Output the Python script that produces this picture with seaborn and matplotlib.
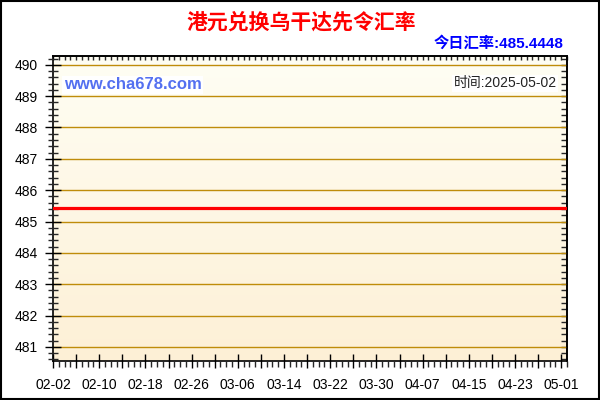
import numpy as np
import pandas as pd
import matplotlib
matplotlib.use("Agg")
import matplotlib.pyplot as plt
import matplotlib.dates as mdates
from matplotlib.colors import LinearSegmentedColormap
from matplotlib.patches import Rectangle
from matplotlib.ticker import MultipleLocator
import seaborn as sns

# data
dates = pd.date_range("2025-02-02", "2025-05-02", freq="D")
rates = [485.4448] * len(dates)
label_dates = pd.date_range("2025-02-02", "2025-05-02", freq="4D")
title = "港元兑换乌干达先令汇率"
today_text = "今日汇率:485.4448"
site_text = "www.cha678.com"
time_text = "时间:2025-05-02"

sns.set_style("white")
plt.rcParams["font.family"] = ["Liberation Sans", "Noto Sans CJK SC", "DejaVu Sans"]

df = pd.DataFrame({"date": dates, "rate": rates})

fig = plt.figure(figsize=(6, 4), dpi=100)
fig.patch.set_facecolor("white")
ax = fig.add_axes([53 / 600, 1 - 361 / 400, 514 / 600, 305 / 400])
ax.set_axisbelow(False)

sns.lineplot(data=df, x="date", y="rate", color="#FF0000", linewidth=2.3, ax=ax, zorder=5)

x0, x1 = mdates.date2num(dates[0]), mdates.date2num(dates[-1])
y0, y1 = 480.55, 490.28
ax.set_xlim(x0, x1)
ax.set_ylim(y0, y1)

# background gradient
cmap = LinearSegmentedColormap.from_list("bg", ["#FDF0D6", "#FFFEF4"])
ax.imshow(np.linspace(0, 1, 256).reshape(-1, 1), cmap=cmap, origin="lower",
          extent=[x0, x1, y0, y1], aspect="auto", zorder=0)
ax.set_xlim(x0, x1)
ax.set_ylim(y0, y1)

# horizontal grid lines
for v in range(481, 491):
    ax.axhline(v, color="#BF8C0A", linewidth=1.0, zorder=1.5)

# y ticks
ax.yaxis.set_major_locator(MultipleLocator(1))
ax.yaxis.set_minor_locator(MultipleLocator(0.2))
ax.tick_params(axis="y", which="major", direction="inout", length=12, width=1,
               labelsize=10, pad=5, colors="black", left=True)
ax.tick_params(axis="y", which="minor", direction="inout", length=7, width=1, left=True)

# x ticks
ax.set_xticks(mdates.date2num(label_dates))
ax.set_xticklabels([d.strftime("%m-%d") if i % 2 == 0 else "" for i, d in enumerate(label_dates)])
ax.xaxis.set_minor_locator(mdates.DayLocator())
ax.tick_params(axis="x", which="major", direction="inout", length=10, width=1,
               labelsize=10, pad=7, colors="black", bottom=True)
ax.tick_params(axis="x", which="minor", direction="out", length=4, width=1, bottom=True)
ax.set_xlabel("")
ax.set_ylabel("")

# top and right ticks pointing inward
top = ax.secondary_xaxis("top")
top.xaxis.set_major_locator(mdates.DayLocator())
top.tick_params(direction="in", length=3, width=1, labeltop=False)
right = ax.secondary_yaxis("right")
right.yaxis.set_major_locator(MultipleLocator(0.2))
right.tick_params(direction="in", length=4, width=1, labelright=False)

for s in list(ax.spines.values()) + [top.spines["top"], right.spines["right"]]:
    s.set_color("black")
    s.set_linewidth(1.2)

# texts
fig.text(0.502, 1 - 22 / 400, title, ha="center", va="center", fontsize=15,
         fontweight="bold", color="#FF0000", family=["Noto Sans CJK SC"])
fig.text(563 / 600, 1 - 43 / 400, today_text, ha="right", va="center", fontsize=11,
         fontweight="bold", color="#0000FF")
ax.text(0.021, 0.905, site_text, transform=ax.transAxes, ha="left", va="center",
        fontsize=12, fontweight="bold", color="#5470F0", zorder=6,
        bbox=dict(facecolor="white", edgecolor="none", pad=1))
ax.text(0.98, 0.91, time_text, transform=ax.transAxes, ha="right", va="center",
        fontsize=10, color="#222222", zorder=6,
        bbox=dict(facecolor="white", edgecolor="none", pad=1))

# outer frame
fig.patches.append(Rectangle((0.0015, 0.0025), 0.997, 0.995, transform=fig.transFigure,
                             fill=False, edgecolor="black", linewidth=1.5))

fig.savefig("out.png", dpi=100)
